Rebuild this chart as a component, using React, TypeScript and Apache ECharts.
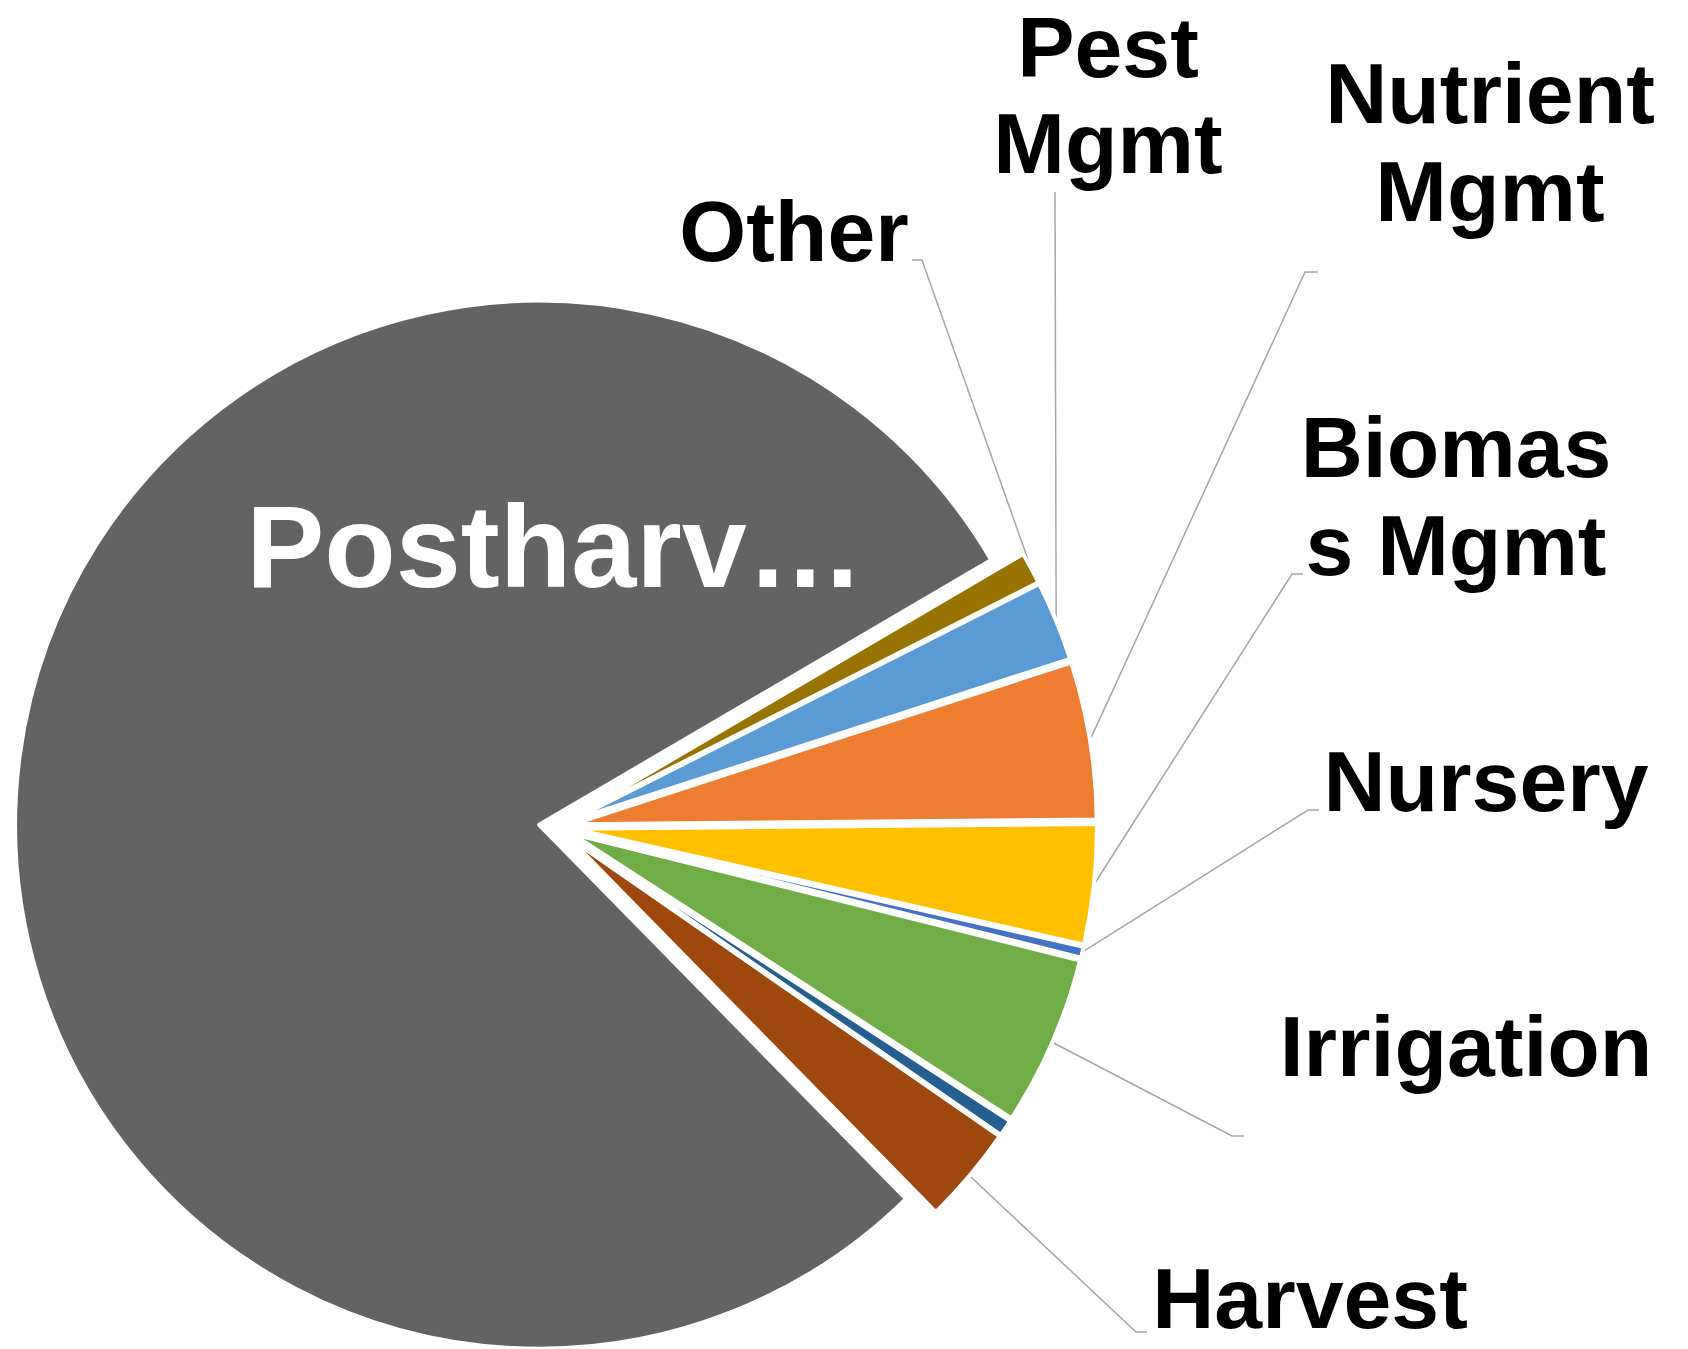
import React, { useEffect, useRef } from "react";
import * as echarts from "echarts";

// ---- data ----
const categories = [
  "Other",
  "Pest Mgmt",
  "Nutrient Mgmt",
  "Biomass Mgmt",
  "Nursery",
  "Irrigation",
  "Unlabeled",
  "Harvest",
  "Postharvest",
];
const shares = [0.98, 2.46, 4.85, 3.69, 0.34, 5.25, 0.51, 3.01, 78.91];
const labelTexts = [
  "Other",
  "Pest\nMgmt",
  "Nutrient\nMgmt",
  "Biomas\ns Mgmt",
  "Nursery",
  "Irrigation",
  "",
  "Harvest",
  "Postharv…",
];
const colors = [
  "#997300",
  "#5B9BD5",
  "#ED7D31",
  "#FFC000",
  "#4472C4",
  "#70AD47",
  "#255E91",
  "#9E480E",
  "#636363",
];

// ---- label placement (annotation layout) ----
const labelCenterX: (number | null)[] = [794, 1108, 1490, 1456, 1486, 1466, null, 1310, 555];
const labelFirstBaseline: (number | null)[] = [261, 77, 123, 477, 811, 1076, null, 1328, 587];
const labelLineHeight: (number | null)[] = [88, 96, 98, 98, 88, 88, null, 86, 120];
const guideBend: (number[] | null)[] = [
  [922, 260],
  [1055, 192],
  [1305, 272],
  [1292, 574],
  [1308, 810],
  [1232, 1136],
  null,
  [1136, 1332],
  null,
];
const guideEnd: (number[] | null)[] = [
  [912, 260],
  [1055, 192],
  [1318, 272],
  [1303, 574],
  [1319, 810],
  [1244, 1136],
  null,
  [1147, 1332],
  null,
];

// ---- geometry / style ----
const CX = 556;
const CY = 827;
const R = 524;
const OFFSET = 17;
const START_ANGLE = 30.36;
const FONT = "'Liberation Sans', Arial, Helvetica, sans-serif";
const FS = 86;
const FS_IN = 117;

export default function App() {
  const ref = useRef<HTMLDivElement>(null);

  useEffect(() => {
    if (!ref.current) return;
    const chart = echarts.init(ref.current, undefined, { renderer: "svg" });
    const total = shares.reduce((a, b) => a + b, 0);
    const cum: number[] = [];
    let acc = 0;
    shares.forEach((v) => {
      cum.push(acc);
      acc += v;
    });
    const mids = shares.map(
      (v, i) => ((START_ANGLE - (360 * (cum[i] + v / 2)) / total) * Math.PI) / 180
    );
    const last = shares.length - 1;

    const labelLayout = (p: any) => {
      const i = p.dataIndex;
      const cxl = labelCenterX[i];
      const bl = labelFirstBaseline[i];
      if (cxl == null || bl == null) return {};
      const fs = i === last ? FS_IN : FS;
      const lh = labelLineHeight[i] || 98;
      const lines = labelTexts[i].split("\n").length;
      const y = bl - 0.3465 * fs + ((lines - 1) * lh) / 2;
      const res: any = { x: cxl, y, align: "center", verticalAlign: "middle" };
      const bend = guideBend[i];
      const end = guideEnd[i];
      if (bend && end) {
        const sx = CX + (R + OFFSET) * Math.cos(mids[i]);
        const sy = CY - (R + OFFSET) * Math.sin(mids[i]);
        res.labelLinePoints = [
          [sx, sy],
          [bend[0], bend[1]],
          [end[0], end[1]],
        ];
      }
      return res;
    };

    // one pie per slice, each shifted outward along its own bisector (exploded pie)
    const series = categories.map((_, s) => ({
      type: "pie",
      center: [CX + OFFSET * Math.cos(mids[s]), CY - OFFSET * Math.sin(mids[s])],
      radius: R,
      startAngle: START_ANGLE,
      clockwise: true,
      avoidLabelOverlap: false,
      silent: true,
      emphasis: { disabled: true },
      z: s === last ? 1 : 2,
      label: {
        show: true,
        position: s === last ? "inside" : "outside",
        formatter: (p: any) => labelTexts[p.dataIndex],
        fontFamily: FONT,
        fontWeight: "bold",
        fontSize: s === last ? FS_IN : FS,
        lineHeight: labelLineHeight[s] || 98,
        color: s === last ? "#ffffff" : "#000000",
        width: 700,
        align: "center",
      },
      labelLine: {
        show: s !== last,
        length: 10,
        length2: 10,
        lineStyle: { color: "#a6a6a6", width: 1.5 },
      },
      labelLayout,
      data: categories.map((name, i) => {
        if (i !== s) {
          return {
            name,
            value: shares[i],
            itemStyle: { color: "rgba(0,0,0,0)", borderWidth: 0 },
            label: { show: false },
            labelLine: { show: false },
          };
        }
        const item: any = {
          name,
          value: shares[i],
          itemStyle: { color: colors[i], borderColor: "#ffffff", borderWidth: 4 },
        };
        if (labelTexts[i] === "") {
          item.label = { show: false };
          item.labelLine = { show: false };
        }
        return item;
      }),
    }));

    chart.setOption({
      animation: false,
      backgroundColor: "#ffffff",
      series,
    });

    return () => chart.dispose();
  }, []);

  return (
    <div
      ref={ref}
      style={{ position: "absolute", left: 0, top: 0, width: 1688, height: 1349 }}
    />
  );
}
